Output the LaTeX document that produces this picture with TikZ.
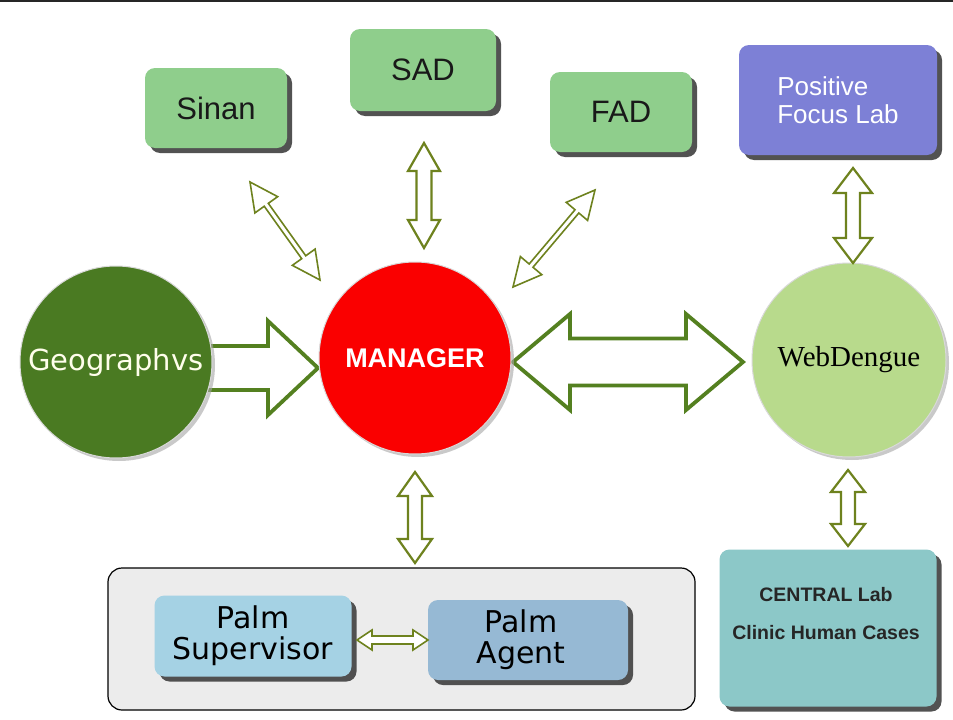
\documentclass[tikz,border=0pt]{standalone}
\usepackage{fontspec}
\setmainfont{Liberation Sans}
\newfontfamily\serifface{Liberation Serif}
\newfontfamily\verdanaface{DejaVu Sans}
\usetikzlibrary{calc,shadows}
\definecolor{boxgreen}{RGB}{143,206,140}
\definecolor{boxblue}{RGB}{125,128,214}
\definecolor{geogreen}{RGB}{74,122,34}
\definecolor{mgrred}{RGB}{250,0,0}
\definecolor{webgreen}{RGB}{184,218,140}
\definecolor{palmsup}{RGB}{165,210,228}
\definecolor{palmagent}{RGB}{150,185,212}
\definecolor{centralteal}{RGB}{140,200,200}
\definecolor{groupgrey}{RGB}{236,236,236}
\definecolor{arrowgreen}{RGB}{84,128,32}
\definecolor{arrowolive}{RGB}{110,130,30}
\newcommand\dbarrow[6][]{%
  \draw[#1] (#2)
   -- ($ ($(#2)!#6!(#3)$)!#5!90:(#3) $)
   -- ($ ($(#2)!#6!(#3)$)!#4!90:(#3) $)
   -- ($ ($(#3)!#6!(#2)$)!#4!-90:(#2) $)
   -- ($ ($(#3)!#6!(#2)$)!#5!-90:(#2) $)
   -- (#3)
   -- ($ ($(#3)!#6!(#2)$)!#5!90:(#2) $)
   -- ($ ($(#3)!#6!(#2)$)!#4!90:(#2) $)
   -- ($ ($(#2)!#6!(#3)$)!#4!-90:(#3) $)
   -- ($ ($(#2)!#6!(#3)$)!#5!-90:(#3) $)
   -- cycle;}
\newcommand\sgarrow[6][]{%
  \draw[#1] ($(#2)!#4!90:(#3)$)
   -- ($ ($(#3)!#6!(#2)$)!#4!-90:(#2) $)
   -- ($ ($(#3)!#6!(#2)$)!#5!-90:(#2) $)
   -- (#3)
   -- ($ ($(#3)!#6!(#2)$)!#5!90:(#2) $)
   -- ($ ($(#3)!#6!(#2)$)!#4!90:(#2) $)
   -- ($(#2)!#4!-90:(#3)$);}
\tikzset{
  rbox/.style={draw=none, rounded corners=10pt, inner sep=0pt,
    drop shadow={shadow xshift=5pt, shadow yshift=-5pt, fill=black!75, opacity=0.9}},
  topbox/.style={rbox, fill=boxgreen, minimum width=142pt, minimum height=80pt,
    font=\fontsize{31}{34}\selectfont, text=black!90},
  bigcirc/.style={circle, inner sep=0pt, draw=white!85!black, line width=1pt,
    drop shadow={shadow xshift=3pt, shadow yshift=-3pt, fill=black!35, opacity=0.6}},
  bigarrow/.style={draw=arrowgreen, fill=white, line width=3.8pt, line join=miter},
  midarrow/.style={draw=arrowolive, fill=white, line width=2.2pt, line join=miter},
  thinarrow/.style={draw=arrowolive, fill=white, line width=1.6pt, line join=miter},
  boxtext/.style={inner sep=0pt, align=center},
  palmfont/.style={font=\verdanaface\fontsize{30}{31}\selectfont},
}
\begin{document}
\begin{tikzpicture}[x=1pt,y=-1pt]
\useasboundingbox (0,0) rectangle (953,720);
\fill[white] (0,0) rectangle (953,720);
\draw[black!85, line width=2.5pt] (0,1) -- (953,1);

% group container
\node[draw=black, line width=1.2pt, fill=groupgrey, rounded corners=14pt,
  minimum width=587pt, minimum height=142pt, inner sep=0pt] (palmgroup) at (401.5,639) {};

% top boxes
\node[topbox] (sinan) at (216,108) {Sinan};
\node[topbox, minimum width=146pt, minimum height=82pt] (sad) at (423,70) {SAD};
\node[topbox] (fad) at (621,112) {FAD};
\node[rbox, fill=boxblue, minimum width=198pt, minimum height=110pt, text=white,
  align=left, font=\fontsize{26}{28}\selectfont] (pos) at (838,100) {Positive\\Focus Lab};

% arrow end coordinates
\coordinate (geoA) at (190,368);
\coordinate (geoB) at (318,368);
\coordinate (mwA) at (513,362);
\coordinate (mwB) at (743,362);
\coordinate (snA) at (250,182);
\coordinate (snB) at (320,280);
\coordinate (sdA) at (424,143);
\coordinate (sdB) at (424,248);
\coordinate (fdA) at (595,190);
\coordinate (fdB) at (513,287);
\coordinate (pwA) at (853,168);
\coordinate (pwB) at (853,263);
\coordinate (wcA) at (848,470);
\coordinate (wcB) at (848,546);
\coordinate (mpA) at (415,472);
\coordinate (mpB) at (415,563);
\coordinate (ppA) at (357,640);
\coordinate (ppB) at (428,640);

% big arrows (drawn under the circles)
\sgarrow[bigarrow]{geoA}{geoB}{22pt}{47pt}{50pt}
\dbarrow[bigarrow]{mwA}{mwB}{23.5pt}{48pt}{57pt}

% circles
\node[bigcirc, fill=geogreen, minimum size=192pt, text=white!92!yellow,
  font=\verdanaface\fontsize{29}{32}\selectfont] (geo) at (116,362) {Geographvs};
\node[bigcirc, fill=mgrred, minimum size=192pt, text=white,
  font=\bfseries\fontsize{27}{30}\selectfont] (mgr) at (415,358) {MANAGER};
\node[bigcirc, fill=webgreen, minimum size=194pt, text=black,
  font=\serifface\fontsize{29}{32}\selectfont] (web) at (849,360) {WebDengue};

% small arrows
\dbarrow[thinarrow]{snA}{snB}{2.5pt}{14pt}{28pt}
\dbarrow[midarrow]{sdA}{sdB}{7.5pt}{16pt}{28pt}
\dbarrow[thinarrow]{fdA}{fdB}{2.5pt}{14pt}{28pt}
\dbarrow[midarrow]{pwA}{pwB}{7pt}{19pt}{25pt}
\dbarrow[midarrow]{wcA}{wcB}{7pt}{17pt}{22pt}
\dbarrow[midarrow]{mpA}{mpB}{7pt}{17pt}{24pt}

% palm boxes
\node[rbox, fill=palmsup, minimum width=197pt, minimum height=81pt, align=center,
  palmfont] (psup) at (253,636) {Palm\\Supervisor};
\node[rbox, fill=palmagent, minimum width=200pt, minimum height=80pt] (pagent) at (528,640) {};
\node[boxtext, palmfont] (pagenttext) at (521,640) {Palm\\Agent};
\dbarrow[thinarrow]{ppA}{ppB}{4pt}{10pt}{15pt}

% central lab
\node[rbox, fill=centralteal, minimum width=217pt, minimum height=157pt] (central) at (828,628) {};
\node[boxtext, font=\bfseries\fontsize{19.5}{38}\selectfont, text=black!85] (centraltext) at (826,614)
  {CENTRAL Lab\\Clinic Human Cases};
\end{tikzpicture}
\end{document}
